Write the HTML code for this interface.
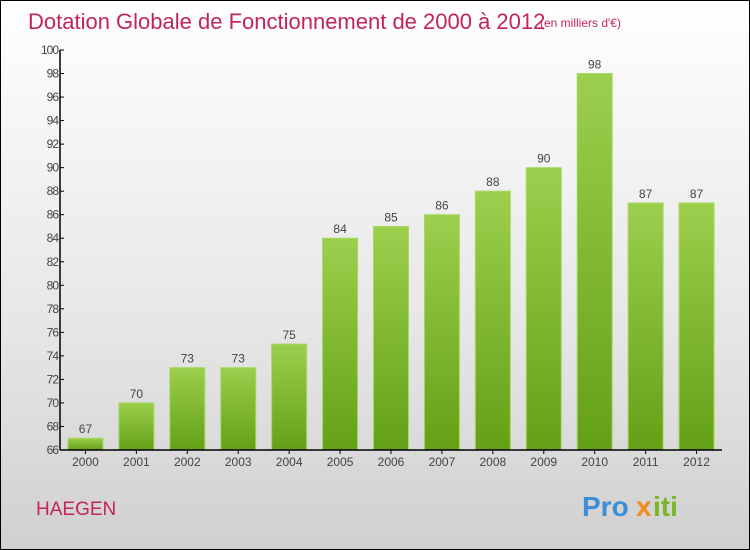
<!DOCTYPE html>
<html><head><meta charset="utf-8"><style>
body{margin:0;width:750px;height:550px;overflow:hidden;font-family:"Liberation Sans",sans-serif}
#wrap{position:absolute;left:0;top:0;width:748px;height:548px;border:1px solid #000;background:linear-gradient(#ffffff,#e6e6e6 60%,#d0d0d0)}
</style></head><body>
<div id="wrap">
<svg id="c" width="750" height="550" style="position:absolute;left:-1px;top:-1px">
<defs><linearGradient id="g" x1="0" y1="0" x2="0" y2="1"><stop offset="0" stop-color="#9ccf4e"/><stop offset="1" stop-color="#64a016"/></linearGradient></defs>
<text x="28" y="29" font-size="22" fill="#c4245a">Dotation Globale de Fonctionnement de 2000 à 2012</text>
<text x="540" y="27" font-size="12" fill="#c4245a">(en milliers d'€)</text>
<text x="36" y="515" font-size="19" fill="#c4245a">HAEGEN</text>
<g font-size="28" font-weight="bold" font-family="Liberation Sans,sans-serif">
<text x="582" y="516" fill="#3b8fd6">Pro</text><text x="636" y="516" fill="#f08a1c">x</text><text x="653" y="516" fill="#7ab52a">iti</text>
</g>
<g id="plot"></g>
</svg></div>
<script>
const years=["2000","2001","2002","2003","2004","2005","2006","2007","2008","2009","2010","2011","2012"];
const values=[67,70,73,73,75,84,85,86,88,90,98,87,87];
const yTicks=[66,68,70,72,74,76,78,80,82,84,86,88,90,92,94,96,98,100];
const NS="http://www.w3.org/2000/svg";
const x0=60,x1=722,y0=450,y1=50,vmin=66,vmax=100;
const band=(x1-x0)/years.length,bw=35;
const y=v=>y0-(v-vmin)/(vmax-vmin)*(y0-y1);
const xc=i=>x0+band*(i+0.5);
const p=document.getElementById('plot');
function mk(t,a){const e=document.createElementNS(NS,t);for(const k in a)e.setAttribute(k,a[k]);p.appendChild(e);return e;}
values.forEach((v,i)=>{
 const r=mk('rect',{x:xc(i)-bw/2,y:y(v),width:bw,height:y0-y(v),fill:'url(#g)',stroke:'#a8d860','stroke-width':1});
 
 
 const t=mk('text',{x:xc(i),y:y(v)-5,'text-anchor':'middle','font-size':12,fill:'#444'});
 t.textContent=v;
 
 
 const xl=mk('text',{x:xc(i),y:y0+16,'text-anchor':'middle','font-size':12,fill:'#444'});
 xl.textContent=years[i];
 
 
 const xt=mk('line',{x1:xc(i),x2:xc(i),y1:y0,y2:y0+4,stroke:'#000'});
 
 
});
yTicks.forEach(v=>{
 const l=mk('line',{x1:x0,x2:x0+4,y1:y(v),y2:y(v),stroke:'#000'});
 
 
 const t=mk('text',{x:x0-2,y:y(v)+4,'text-anchor':'end','font-size':12,fill:'#444','letter-spacing':'-1'});
 t.textContent=v;
 
 
});
const ya=mk('line',{x1:x0,x2:x0,y1:y1,y2:y0,stroke:'#000','stroke-width':1.5});


const xa=mk('line',{x1:x0,x2:x1,y1:y0,y2:y0,stroke:'#000','stroke-width':1.5});


</script>
</body></html>
